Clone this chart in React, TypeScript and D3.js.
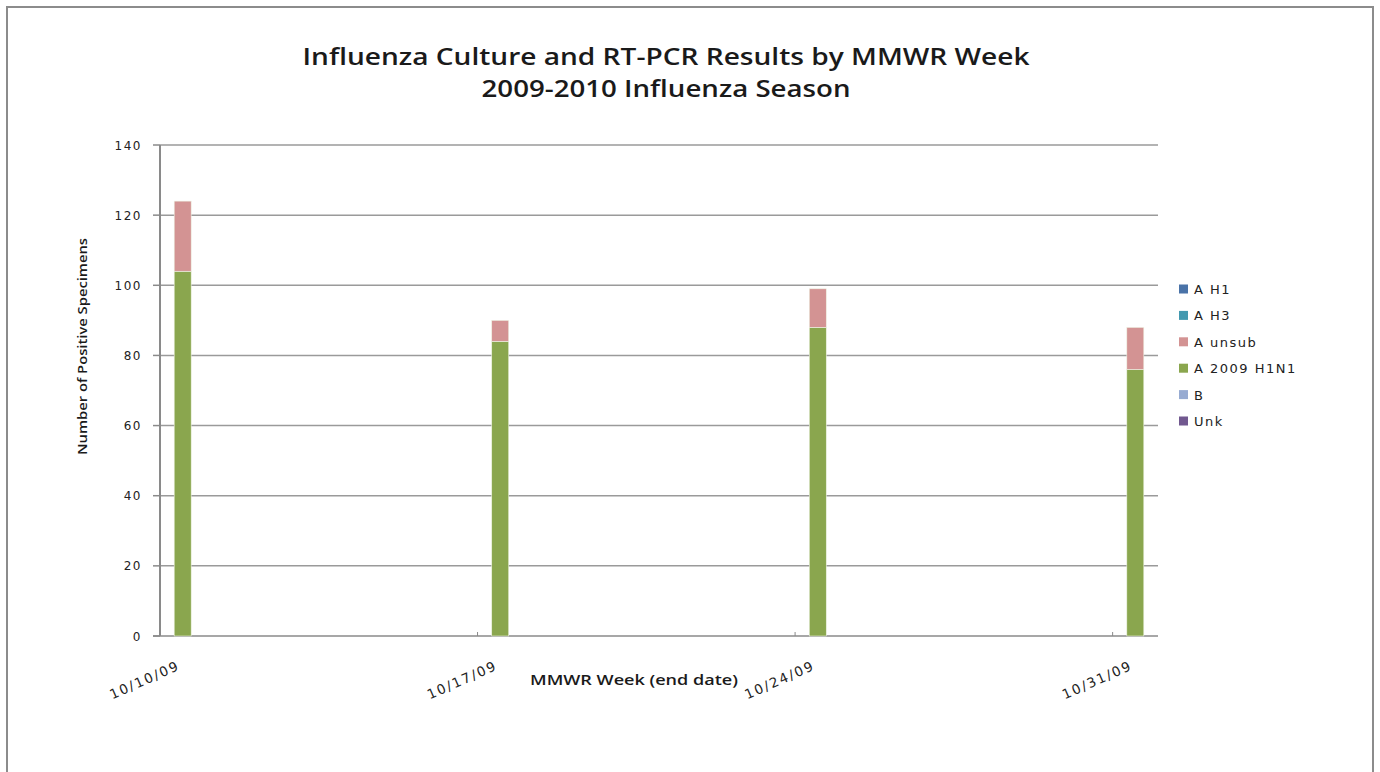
import React, { useEffect, useRef } from "react";
import * as d3 from "d3";

// Weekly positive specimens by subtype (week end dates)
const weeks = ["2009-10-10", "2009-10-17", "2009-10-24", "2009-10-31"];
const weekLabels = ["10/10/09", "10/17/09", "10/24/09", "10/31/09"];
const aH1 = [0, 0, 0, 0];
const aH3 = [0, 0, 0, 0];
const aUnsub = [20, 6, 11, 12];
const a2009H1N1 = [104, 84, 88, 76];
const bType = [0, 0, 0, 0];
const unk = [0, 0, 0, 0];

const seriesNames = ["A H1", "A H3", "A unsub", "A 2009 H1N1", "B", "Unk"];
const seriesColors = ["#4a73a8", "#4399b0", "#d39393", "#8aa64e", "#97abd2", "#71588f"];
const seriesValues = [aH1, aH3, aUnsub, a2009H1N1, bType, unk];
const yTicks = [0, 20, 40, 60, 80, 100, 120, 140];

const W = 1380;
const H = 772;
const left = 160;
const right = 1158;
const top = 145;
const bottom = 636;

export default function App() {
  const ref = useRef<SVGSVGElement>(null);

  useEffect(() => {
    const svg = d3.select(ref.current);
    svg.selectAll("*").remove();

    const parse = d3.utcParse("%Y-%m-%d");
    const dates = weeks.map((w) => parse(w) as Date);
    const start = dates[0];
    const end = d3.utcDay.offset(dates[dates.length - 1], 1);

    const x = d3.scaleUtc().domain([start, end]).range([left, right]);
    const y = d3.scaleLinear().domain([0, 140]).range([bottom, top]);

    // outer chart frame
    svg
      .append("rect")
      .attr("x", 7)
      .attr("y", 7)
      .attr("width", 1366)
      .attr("height", 800)
      .attr("fill", "#fff")
      .attr("stroke", "#8c8c8c")
      .attr("stroke-width", 2);

    // title
    const title = svg.append("g").attr("font-family", "'Open Sans', sans-serif").attr("font-weight", 600).attr("fill", "#1a1a1a");
    title
      .append("text")
      .attr("x", 666)
      .attr("y", 65)
      .attr("text-anchor", "middle")
      .attr("font-size", 23)
      .attr("textLength", 727)
      .attr("lengthAdjust", "spacingAndGlyphs")
      .text("Influenza Culture and RT-PCR Results by MMWR Week");
    title
      .append("text")
      .attr("x", 666)
      .attr("y", 97)
      .attr("text-anchor", "middle")
      .attr("font-size", 23)
      .attr("textLength", 369)
      .attr("lengthAdjust", "spacingAndGlyphs")
      .text("2009-2010 Influenza Season");

    // gridlines
    svg
      .append("g")
      .selectAll("line")
      .data(yTicks.filter((t) => t > 0))
      .join("line")
      .attr("x1", left)
      .attr("x2", right)
      .attr("y1", (d) => y(d))
      .attr("y2", (d) => y(d))
      .attr("stroke", "#9a9a9a")
      .attr("stroke-width", 1.5);

    // y axis line and ticks
    svg
      .append("line")
      .attr("x1", left)
      .attr("x2", left)
      .attr("y1", top)
      .attr("y2", bottom)
      .attr("stroke", "#8a8a8a")
      .attr("stroke-width", 2);
    svg
      .append("g")
      .selectAll("line")
      .data(yTicks)
      .join("line")
      .attr("x1", left - 7)
      .attr("x2", left)
      .attr("y1", (d) => y(d))
      .attr("y2", (d) => y(d))
      .attr("stroke", "#8a8a8a")
      .attr("stroke-width", 1.5);
    svg
      .append("g")
      .selectAll("text")
      .data(yTicks)
      .join("text")
      .attr("x", 142)
      .attr("y", (d) => y(d) + 4.5)
      .attr("text-anchor", "end")
      .attr("font-family", "'DejaVu Sans', sans-serif")
      .attr("font-size", 12)
      .attr("letter-spacing", 1.5)
      .attr("fill", "#222")
      .text((d) => String(d));

    // x axis line and week ticks
    svg
      .append("line")
      .attr("x1", left - 7)
      .attr("x2", right)
      .attr("y1", bottom)
      .attr("y2", bottom)
      .attr("stroke", "#8a8a8a")
      .attr("stroke-width", 1.5);
    svg
      .append("g")
      .selectAll("line")
      .data(dates)
      .join("line")
      .attr("x1", (d) => x(d))
      .attr("x2", (d) => x(d))
      .attr("y1", bottom - 4)
      .attr("y2", bottom)
      .attr("stroke", "#8a8a8a")
      .attr("stroke-width", 1);

    // stacked bars, bottom series last in legend
    const rows = dates.map((d, i) => {
      const r: Record<string, any> = { date: d };
      seriesNames.forEach((n, s) => (r[n] = seriesValues[s][i]));
      return r;
    });
    const stackOrder = [...seriesNames].reverse();
    const stacked = d3.stack<any>().keys(stackOrder)(rows);
    const barW = 17;
    const dayCenter = (d: Date) => x(d3.utcHour.offset(d, 12));

    svg
      .append("g")
      .selectAll("g")
      .data(stacked)
      .join("g")
      .attr("fill", (s) => seriesColors[seriesNames.indexOf(s.key)])
      .selectAll("rect")
      .data((s) => s.filter((p) => p[1] - p[0] > 0))
      .join("rect")
      .attr("x", (p) => dayCenter(p.data.date) - barW / 2)
      .attr("width", barW)
      .attr("y", (p) => y(p[1]))
      .attr("height", (p) => y(p[0]) - y(p[1]))
      .attr("stroke", "#eef3e4")
      .attr("stroke-width", 0.6);

    // week labels, rotated
    svg
      .append("g")
      .selectAll("text")
      .data(dates)
      .join("text")
      .attr("transform", (d) => `translate(${dayCenter(d) - 2},${bottom + 33}) rotate(-24)`)
      .attr("text-anchor", "end")
      .attr("font-family", "'DejaVu Sans', sans-serif")
      .attr("font-size", 13.5)
      .attr("letter-spacing", 1.8)
      .attr("fill", "#222")
      .text((_, i) => weekLabels[i]);

    // axis titles
    svg
      .append("text")
      .attr("x", 634)
      .attr("y", 685)
      .attr("text-anchor", "middle")
      .attr("font-family", "'Open Sans', sans-serif")
      .attr("font-weight", 600)
      .attr("font-size", 14)
      .attr("textLength", 208)
      .attr("lengthAdjust", "spacingAndGlyphs")
      .attr("fill", "#1a1a1a")
      .text("MMWR Week (end date)");
    svg
      .append("text")
      .attr("transform", `translate(87,${(238 + 455) / 2}) rotate(-90)`)
      .attr("text-anchor", "middle")
      .attr("font-family", "'Open Sans', sans-serif")
      .attr("font-weight", 600)
      .attr("font-size", 13)
      .attr("textLength", 217)
      .attr("lengthAdjust", "spacingAndGlyphs")
      .attr("fill", "#1a1a1a")
      .text("Number of Positive Specimens");

    // legend
    const legend = svg
      .append("g")
      .selectAll("g")
      .data(seriesNames)
      .join("g")
      .attr("transform", (_, i) => `translate(1179,${289 + i * 26.4})`);
    legend
      .append("rect")
      .attr("x", 0)
      .attr("y", -4.5)
      .attr("width", 9)
      .attr("height", 9)
      .attr("fill", (_, i) => seriesColors[i]);
    legend
      .append("text")
      .attr("x", 15)
      .attr("y", 5)
      .attr("font-family", "'DejaVu Sans', sans-serif")
      .attr("font-size", 13)
      .attr("letter-spacing", 1.5)
      .attr("fill", "#222")
      .text((d) => d);
  }, []);

  return (
    <svg
      ref={ref}
      width={W}
      height={H}
      style={{ position: "absolute", left: 0, top: 0, background: "#fff" }}
    />
  );
}
